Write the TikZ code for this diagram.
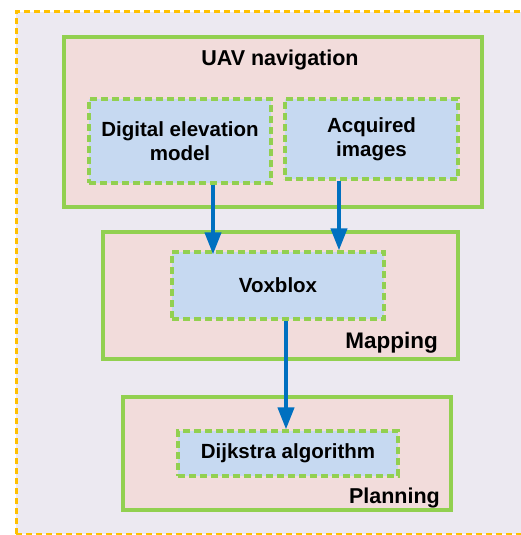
\documentclass[tikz,border=0pt]{standalone}
\usepackage{fontspec}
\setmainfont{Liberation Sans}
\usetikzlibrary{arrows.meta}
\definecolor{bgframe}{HTML}{ECE9F1}
\definecolor{framedash}{HTML}{FFC000}
\definecolor{leafgreen}{HTML}{92D050}
\definecolor{groupfill}{HTML}{F2DCDB}
\definecolor{itemfill}{HTML}{C6D9F1}
\definecolor{flowblue}{HTML}{0070C0}
\tikzset{
  group/.style={draw=leafgreen, line width=4pt, fill=groupfill, rectangle, inner sep=0pt},
  item/.style={draw=leafgreen, line width=3.2pt, dash pattern=on 7pt off 4pt, fill=itemfill,
    rectangle, inner sep=0pt, font=\fontsize{20.5}{24}\selectfont\bfseries, align=center},
  caption/.style={font=\fontsize{22.5}{26}\selectfont\bfseries, inner sep=0pt},
  flow/.style={draw=flowblue, line width=4pt, -{Triangle[width=16pt,length=22pt]}}
}
\begin{document}
\begin{tikzpicture}[x=1pt,y=-1pt]
  \useasboundingbox (0,0) rectangle (520,535);
  \fill[white] (0,0) rectangle (520,535);
  % outer frame
  \fill[bgframe] (16,12) rectangle (524,534);
  \draw[framedash, line width=3pt, dash pattern=on 6pt off 4pt] (16,534) -- (16,12) -- (524,12);
  \draw[framedash, line width=3pt, dash pattern=on 6pt off 4pt] (16,534) -- (524,534);
  % groups
  \node[group, minimum width=418pt, minimum height=170pt] (uav) at (273,122) {};
  \node[group, minimum width=355pt, minimum height=127pt] (map) at (280.5,295.5) {};
  \node[group, minimum width=328pt, minimum height=113pt] (plan) at (287,453.5) {};
  % group captions
  \node[caption, font=\fontsize{21.5}{25}\selectfont\bfseries] (uavt) at (280,60) {UAV navigation};
  \node[caption, anchor=base east] (mapt) at (438,348) {Mapping};
  \node[caption, font=\fontsize{21.5}{25}\selectfont\bfseries, anchor=base east] (plant) at (440,503) {Planning};
  % items
  \node[item, minimum width=182pt, minimum height=84pt] (dem) at (180,141) {Digital elevation\\model};
  \node[item, minimum width=173pt, minimum height=80pt] (acq) at (371.5,139) {Acquired\\images};
  \node[item, minimum width=212pt, minimum height=67pt] (vox) at (278,285.5) {Voxblox};
  \node[item, minimum width=220pt, minimum height=45pt] (dij) at (288,453.5) {Dijkstra algorithm};
  % connectors
  \draw[flow] ([xshift=33pt]dem.south) -- ([xshift=-65pt,yshift=-4pt]vox.north);
  \draw[flow] ([xshift=-32.5pt]acq.south) -- ([xshift=61pt]vox.north);
  \draw[flow] ([xshift=8pt]vox.south) -- ([xshift=-2pt]dij.north);
\end{tikzpicture}
\end{document}
